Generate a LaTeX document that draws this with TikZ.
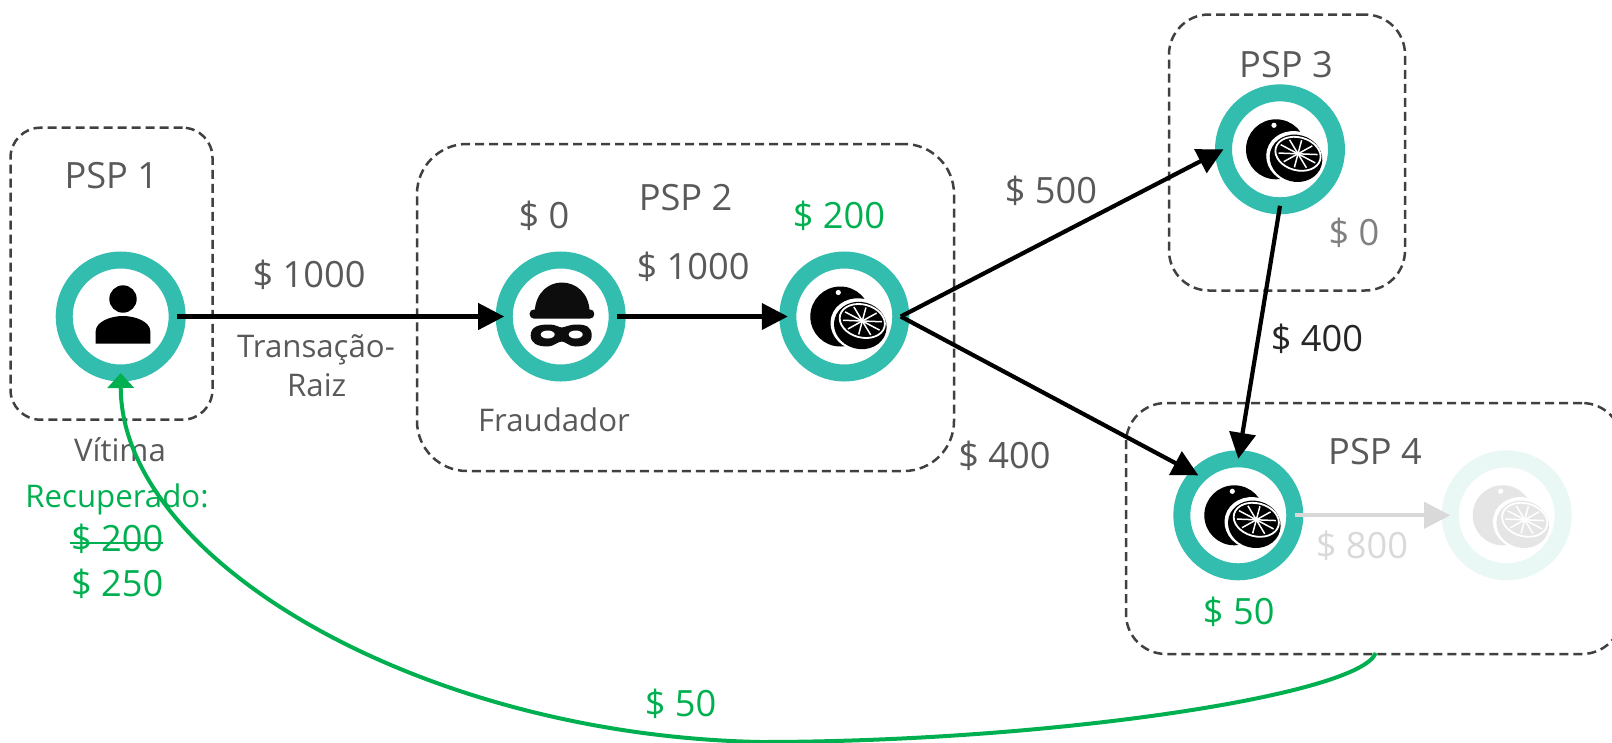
\documentclass[tikz,border=0pt]{standalone}
\usepackage{fontspec}
\setmainfont{Open Sans}
\usetikzlibrary{arrows.meta}
\definecolor{teal1}{HTML}{33BDAE}
\definecolor{txt}{HTML}{595959}
\definecolor{grn}{HTML}{00B050}
\definecolor{dashc}{HTML}{404040}
\definecolor{faint}{HTML}{D9D9D9}
\definecolor{faintring}{HTML}{E9F7F5}
\definecolor{faintfruit}{HTML}{E5E5E5}
\tikzset{
  x=1pt,y=-1pt,
  ring/.style={circle,draw=teal1,line width=17pt,fill=white,minimum size=113pt,inner sep=0pt,outer sep=0pt},
  pspbox/.style={draw=dashc,line width=2.5pt,dash pattern=on 9pt off 5pt,rounded corners=#1,inner sep=0pt,outer sep=0pt},
  big/.style={anchor=base,inner sep=0pt,font=\fontsize{36.2}{36}\selectfont,text=txt},
  small/.style={anchor=base,inner sep=0pt,font=\fontsize{31.2}{31}\selectfont,text=txt},
  flow/.style={-{Triangle[length=26pt,width=26pt]},line width=4.2pt,draw=black},
}
\newcommand\orangeicon[2]{%
  \begin{scope}[shift={#1}]
    \fill[#2] (-4,0) circle[radius=30];
    \fill[white] (-6,-24) circle[radius=2.6];
    \fill[white,rotate around={-15:(15,8)}] (15,8) ellipse[x radius=29,y radius=26];
    \fill[#2,rotate around={-15:(16,9)}] (16,9) ellipse[x radius=26.5,y radius=23.5];
    \begin{scope}[shift={(18,4.5)},rotate=-15]
      \draw[white,line width=1.8pt] (0,0) ellipse[x radius=23,y radius=16.5];
      \foreach \a in {18,54,...,342}{\draw[white,line width=1.5pt] (0,0) -- ({20*cos(\a)},{14*sin(\a)});}
    \end{scope}
  \end{scope}}
\begin{document}
\begin{tikzpicture}
\useasboundingbox (0,0) rectangle (1612,742);
\clip (0,0) rectangle (1612,742);
% boxes
\node[pspbox=30pt,minimum width=202pt,minimum height=292pt] (box1) at (111.5,273.7) {};
\node[pspbox=50pt,minimum width=537pt,minimum height=327pt] (box2) at (685.5,307.5) {};
\node[pspbox=40pt,minimum width=236pt,minimum height=276pt] (box3) at (1287,152.5) {};
\node[pspbox=40pt,minimum width=496pt,minimum height=251pt] (box4) at (1374,528.5) {};
% rings
\node[ring] (vit) at (120.7,316.5) {};
\node[ring] (fra) at (560.7,316.5) {};
\node[ring] (or2) at (844.3,316.5) {};
\node[ring] (or3) at (1280,149.3) {};
\node[ring] (or4) at (1238.3,515.3) {};
\node[ring,draw=faintring] (or5) at (1506.7,515.3) {};
% person
\fill[black] (123,299) circle[radius=13.7];
\fill[black] (95.7,343.5) -- (95.7,331) .. controls (96,322) and (110,316) .. (123,316) .. controls (136,316) and (150,322) .. (150.3,331) -- (150.3,343.5) -- cycle;
% fraudster
\begin{scope}[shift={(560.7,316.5)}]
  \fill[black!95] (-26,-5) .. controls (-25,-24) and (-12,-34) .. (1,-34) .. controls (15,-34) and (28,-24) .. (29,-5) -- cycle;
  \fill[black!95,rounded corners=4pt] (-31,-7) rectangle (33.5,2);
  \fill[black!95] (-30,19) .. controls (-30,10) and (-22,8) .. (-12,8) .. controls (-4,8) and (-2,11) .. (1,11) .. controls (4,11) and (8,8) .. (16,8) .. controls (25,8) and (31,10) .. (31,19) .. controls (31,27) and (24,30) .. (15,30) .. controls (8,30) and (5,25) .. (1,25) .. controls (-3,25) and (-7,30) .. (-13,30) .. controls (-23,30) and (-30,27) .. (-30,19) -- cycle;
  \fill[white] (-13,18) ellipse[x radius=7,y radius=4];
  \fill[white] (15,18) ellipse[x radius=7,y radius=4];
\end{scope}
\orangeicon{(844.3,316.5)}{black}
\orangeicon{(1280,149.3)}{black}
\orangeicon{(1238.3,515.3)}{black}
\orangeicon{(1506.7,515.3)}{faintfruit}
% labels
\node[big] (l1) at (111.3,188) {PSP 1};
\node[big] (l2) at (685.6,210.7) {PSP 2};
\node[big] (l3) at (1286,77) {PSP 3};
\node[big] (l4) at (1375,464) {PSP 4};
\node[big] (m1) at (309,287.7) {\$ 1000};
\node[big] (m2) at (693,279.3) {\$ 1000};
\node[big] (m3) at (544,228) {\$ 0};
\node[big,text=grn] (m4) at (839,228) {\$ 200};
\node[big] (m5) at (1051,203.5) {\$ 500};
\node[big,text=gray] (m6) at (1354,245) {\$ 0};
\node[big,text=black!85] (m7) at (1317,351.6) {\$ 400};
\node[big] (m8) at (1004.5,468) {\$ 400};
\node[big,text=faint] (m9) at (1362,558) {\$ 800};
\node[big,text=grn] (m10) at (1238.7,624) {\$ 50};
\node[big,text=grn] (m11) at (680.6,716) {\$ 50};
\node[small] (t1) at (316,357) {Transação-};
\node[small] (t2) at (316.7,396) {Raiz};
\node[small] (t3) at (120,461) {Vítima};
\node[small] (t4) at (554,431) {Fraudador};
\node[small,text=grn] (r1) at (117,507) {Recuperado:};
\node[big,text=grn] (r2) at (117.2,551) {\$ 200};
\node[big,text=grn] (r3) at (117.2,596) {\$ 250};
\coordinate (s1) at (70,542.7);
\coordinate (s2) at (163,542.7);
\draw[grn,line width=2.2pt] (s1) -- (s2);
% connectors
\draw[flow] (vit.east) -- (fra.west);
\draw[flow] (fra.east) -- (or2.west);
\draw[flow] (or2.east) -- (or3.west);
\draw[flow] (or2.east) -- (or4.135);
\draw[flow] (or3.south) -- (or4.north);
\draw[flow,draw=faint,line width=4pt] (or4.east) -- (or5.west);
\coordinate (gs) at (1375.7,653);
\draw[grn,line width=4pt,-{Triangle[length=15pt,width=26pt]}] (gs) .. controls (1360,695) and (1050,742) .. (760,742) .. controls (420,735) and (121,560) .. (vit.south);
\end{tikzpicture}
\end{document}
